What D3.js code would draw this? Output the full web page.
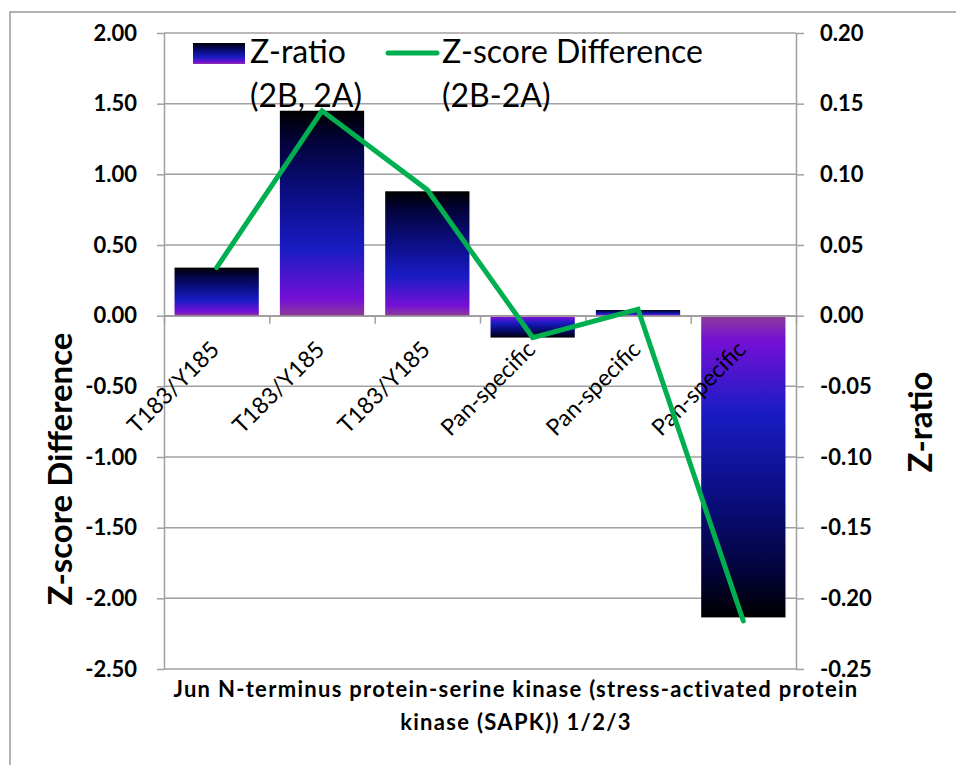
<!DOCTYPE html>
<html>
<head>
<meta charset="utf-8">
<script src="https://cdn.jsdelivr.net/npm/d3@7"></script>
<style>
  body { margin: 0; background: #fff; }
  svg { display: block; font-family: Lato, "Open Sans", sans-serif; }
</style>
</head>
<body>
<div id="chart"></div>
<script>
// Combo chart: Z-ratio bars (left axis) and Z-score difference line (right axis)

const categories = ["T183/Y185", "T183/Y185", "T183/Y185", "Pan-specific", "Pan-specific", "Pan-specific"];
const zRatio = [0.34, 1.45, 0.88, -0.155, 0.04, -2.135];
const zScoreDiff = [0.034, 0.145, 0.089, -0.0155, 0.0045, -0.216];

const leftTicks = [2, 1.5, 1, 0.5, 0, -0.5, -1, -1.5, -2, -2.5];
const leftTickLabels = ["2.00", "1.50", "1.00", "0.50", "0.00", "-0.50", "-1.00", "-1.50", "-2.00", "-2.50"];
const rightTicks = [0.2, 0.15, 0.1, 0.05, 0, -0.05, -0.1, -0.15, -0.2, -0.25];
const rightTickLabels = ["0.20", "0.15", "0.10", "0.05", "0.00", "-0.05", "-0.10", "-0.15", "-0.20", "-0.25"];

const W = 956, H = 765;
const pL = 164, pR = 796, pT = 33, pB = 669; // plot box edges

const svg = d3.select("#chart").append("svg")
  .attr("width", W)
  .attr("height", H);

const grey = "#a0a0a0";

// outer frame (only top and left edges visible)
svg.append("path")
  .attr("d", `M10 ${H} L10 12 L${W} 12`)
  .attr("fill", "none")
  .attr("stroke", "#999")
  .attr("stroke-width", 1.5);

// scales
const x = d3.scaleBand()
  .domain(d3.range(categories.length))
  .range([pL, pR])
  .paddingInner(0.2)
  .paddingOuter(0.1);
const cx = i => x(i) + x.bandwidth() / 2;

const yL = d3.scaleLinear().domain([-2.5, 2]).range([pB, pT]);
const yR = d3.scaleLinear().domain([-0.25, 0.2]).range([pB, pT]);

// gradients, offset 0 = zero end of the bar
const stops = [
  { o: 0, c: "#8c3c98" },
  { o: 0.08, c: "#7510d5" },
  { o: 0.32, c: "#1a1cc4" },
  { o: 0.6, c: "#0a0e80" },
  { o: 0.85, c: "#03033a" },
  { o: 1, c: "#000000" }];

const defs = svg.append("defs");
[["gradPos", 1, 0], ["gradNeg", 0, 1]].forEach(([id, y1, y2]) => {
  defs.append("linearGradient")
    .attr("id", id)
    .attr("x1", 0).attr("x2", 0)
    .attr("y1", y1).attr("y2", y2)
    .selectAll("stop")
    .data(stops)
    .enter()
    .append("stop")
    .attr("offset", d => d.o)
    .attr("stop-color", d => d.c);
});

// gridlines
svg.append("g")
  .selectAll("line")
  .data(leftTicks)
  .enter()
  .append("line")
  .attr("x1", pL).attr("x2", pR)
  .attr("y1", d => yL(d)).attr("y2", d => yL(d))
  .attr("stroke", grey)
  .attr("stroke-width", 1.5);

// bars
svg.append("g")
  .selectAll("rect")
  .data(zRatio)
  .enter()
  .append("rect")
  .attr("x", (d, i) => x(i))
  .attr("width", x.bandwidth())
  .attr("y", d => yL(Math.max(0, d)))
  .attr("height", d => Math.abs(yL(d) - yL(0)))
  .attr("fill", d => d >= 0 ? "url(#gradPos)" : "url(#gradNeg)");

// axes
const styleAxis = g => {
  g.select(".domain").attr("stroke", grey).attr("stroke-width", 1.5);
  g.selectAll(".tick line").attr("stroke", grey).attr("stroke-width", 1.5);
  g.selectAll(".tick text")
    .attr("fill", "#000")
    .style("font-family", "Lato, sans-serif")
    .style("font-size", "22px")
    .style("font-weight", "bold");
};

svg.append("g")
  .attr("transform", `translate(${pL} 0)`)
  .call(d3.axisLeft(yL).tickValues(leftTicks).tickSize(7).tickSizeOuter(0).tickPadding(20)
    .tickFormat((d, i) => leftTickLabels[i]))
  .call(styleAxis);

svg.append("g")
  .attr("transform", `translate(${pR} 0)`)
  .call(d3.axisRight(yR).tickValues(rightTicks).tickSize(8).tickSizeOuter(0).tickPadding(16)
    .tickFormat((d, i) => rightTickLabels[i]))
  .call(styleAxis);

// category axis on the zero line, ticks at band boundaries
const xb = d3.scaleLinear().domain([0, categories.length]).range([pL, pR]);
svg.append("g")
  .attr("transform", `translate(0 ${yL(0)})`)
  .call(d3.axisBottom(xb).tickValues(d3.range(categories.length + 1)).tickSize(8).tickSizeOuter(0).tickFormat(""))
  .call(styleAxis);

svg.append("g")
  .selectAll("text")
  .data(categories)
  .enter()
  .append("text")
  .attr("transform", (d, i) => `translate(${cx(i) + 4} 351) rotate(-45)`)
  .attr("text-anchor", "end")
  .style("font-size", "23px")
  .text(d => d);

// line
svg.append("path")
  .datum(zScoreDiff)
  .attr("d", d3.line().x((d, i) => cx(i)).y(d => yR(d)))
  .attr("fill", "none")
  .attr("stroke", "#00b050")
  .attr("stroke-width", 5)
  .attr("stroke-linecap", "round")
  .attr("stroke-linejoin", "miter");

// legend
const legend = svg.append("g").style("font-size", "32px");
legend.append("rect")
  .attr("x", 193).attr("y", 43)
  .attr("width", 52).attr("height", 21)
  .attr("fill", "url(#gradPos)");
legend.append("text").attr("x", 250).attr("y", 63).text("Z-ratio");
legend.append("text").attr("x", 250).attr("y", 107).text("(2B, 2A)");
legend.append("line")
  .attr("x1", 388).attr("x2", 437)
  .attr("y1", 53).attr("y2", 53)
  .attr("stroke", "#00b050")
  .attr("stroke-width", 5)
  .attr("stroke-linecap", "round");
legend.append("text").attr("x", 442).attr("y", 63).text("Z-score Difference");
legend.append("text").attr("x", 442).attr("y", 107).text("(2B-2A)");

// axis titles
svg.append("text")
  .attr("transform", "translate(72 469) rotate(-90)")
  .attr("text-anchor", "middle")
  .style("font-size", "33px")
  .style("font-weight", "bold")
  .text("Z-score Difference");

svg.append("text")
  .attr("transform", "translate(932 422) rotate(-90)")
  .attr("text-anchor", "middle")
  .style("font-size", "33px")
  .style("font-weight", "bold")
  .text("Z-ratio");

const xTitle = svg.append("text")
  .attr("text-anchor", "middle")
  .style("font-size", "22px")
  .style("letter-spacing", "1.3px")
  .style("font-weight", "bold");
xTitle.append("tspan").attr("x", 516).attr("y", 697)
  .text("Jun N-terminus protein-serine kinase (stress-activated protein");
xTitle.append("tspan").attr("x", 516).attr("y", 730)
  .text("kinase (SAPK)) 1/2/3");
</script>
</body>
</html>
